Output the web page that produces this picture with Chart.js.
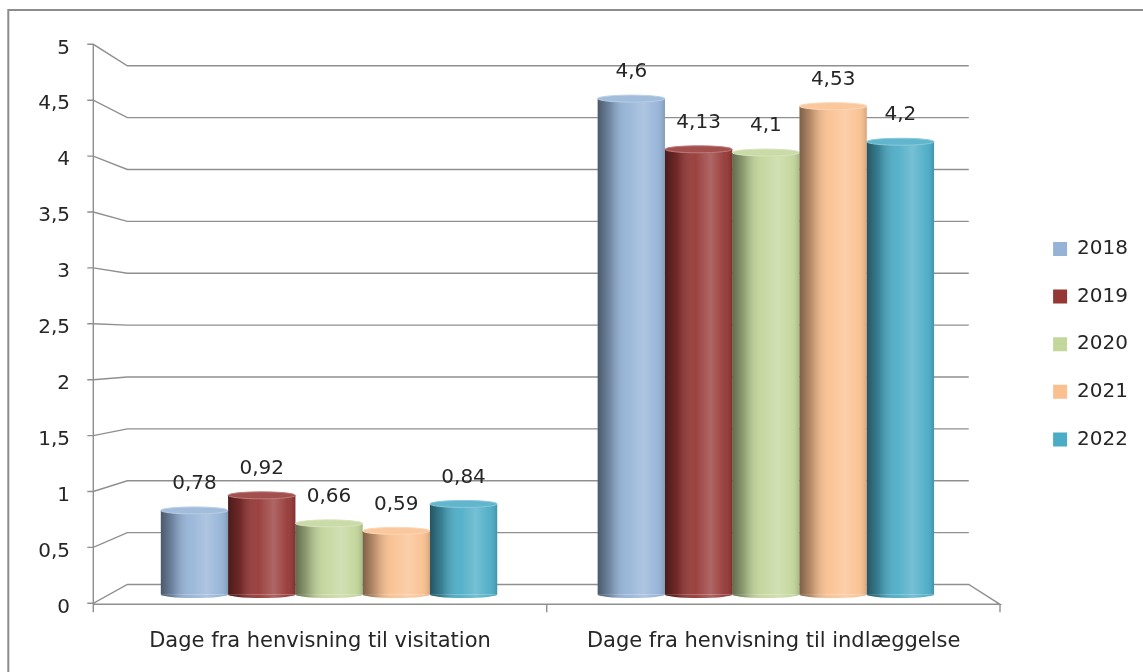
<!DOCTYPE html>
<html><head><meta charset="utf-8">
<script src="https://cdn.jsdelivr.net/npm/chart.js@4.4.1/dist/chart.umd.min.js"></script>
<style>
html,body{margin:0;padding:0;background:#fff;overflow:hidden;}
#wrap{position:relative;width:1143px;height:672px;overflow:hidden;}
canvas{position:absolute;left:0;top:0;}
</style></head><body>
<div id="wrap"><canvas id="c" width="1143" height="672"></canvas></div>
<script>
const categories = ['Dage fra henvisning til visitation', 'Dage fra henvisning til indlæggelse'];
const seriesNames = ['2018', '2019', '2020', '2021', '2022'];
const values2018 = [0.78, 4.6];
const values2019 = [0.92, 4.13];
const values2020 = [0.66, 4.1];
const values2021 = [0.59, 4.53];
const values2022 = [0.84, 4.2];
const yTickValues = [0, 0.5, 1, 1.5, 2, 2.5, 3, 3.5, 4, 4.5, 5];
const yTickLabels = ['0', '0,5', '1', '1,5', '2', '2,5', '3', '3,5', '4', '4,5', '5'];

const seriesValues = [values2018, values2019, values2020, values2021, values2022];
const colors = ['#95B3D7', '#953735', '#C3D69B', '#FAC090', '#4BACC6'];
const TEXT = '#262626';
const GRID = '#8f8f8f';
const FONT = 'DejaVu Sans';

// perspective geometry (layout only)
const FRONT_X0 = 93.3, FRONT_X1 = 1000, VPX = 566, VPY = 342, BACK_S = 0.928, MID_S = 0.9634;

function hexToRgb(h){h=h.replace('#','');return [parseInt(h.substr(0,2),16),parseInt(h.substr(2,2),16),parseInt(h.substr(4,2),16)];}
function mix(h, t, a){const c=hexToRgb(h);return 'rgb('+c.map((v,i)=>Math.round(v+(t[i]-v)*a)).join(',')+')';}

const frame3d = {
  id: 'frame3d',
  beforeDraw(chart) {
    const ctx = chart.ctx;
    ctx.save();
    ctx.strokeStyle = '#8c8c8c'; ctx.lineWidth = 2;
    ctx.beginPath();
    ctx.moveTo(8.3, 680); ctx.lineTo(8.3, 10); ctx.lineTo(1143, 10);
    ctx.stroke();
    ctx.restore();
  },
  beforeDatasetsDraw(chart) {
    const ctx = chart.ctx, y = chart.scales.y, x = chart.scales.x;
    const backX0 = VPX + (FRONT_X0 - VPX) * BACK_S;
    const backX1 = VPX + (FRONT_X1 - VPX) * BACK_S;
    ctx.save();
    ctx.strokeStyle = GRID; ctx.lineWidth = 1.4;
    yTickValues.forEach(v => {
      const yf = y.getPixelForValue(v);
      const yb = VPY + (yf - VPY) * BACK_S;
      ctx.beginPath();
      ctx.moveTo(FRONT_X0 - 6, yf);
      ctx.lineTo(FRONT_X0, yf);
      ctx.lineTo(backX0, yb);
      ctx.lineTo(backX1, yb);
      if (v === 0) {
        ctx.lineTo(FRONT_X1, yf + 1);
        ctx.lineTo(FRONT_X0, yf + 1);
      }
      ctx.stroke();
    });
    const y0 = y.getPixelForValue(0), y5 = y.getPixelForValue(5);
    ctx.beginPath();
    ctx.moveTo(FRONT_X0, y5); ctx.lineTo(FRONT_X0, y0 + 9);
    ctx.moveTo(FRONT_X1, y0 + 1); ctx.lineTo(FRONT_X1, y0 + 9);
    const midSplit = (x.getPixelForValue(0) + x.getPixelForValue(1)) / 2;
    const frontSplit = VPX + (midSplit - VPX) / MID_S;
    ctx.moveTo(frontSplit, y0 + 1); ctx.lineTo(frontSplit, y0 + 9);
    ctx.stroke();
    ctx.restore();
  },
  afterDatasetsDraw(chart) {
    const ctx = chart.ctx;
    const RY = 3.5;
    ctx.save();
    chart.data.datasets.forEach((ds, di) => {
      const meta = chart.getDatasetMeta(di);
      const base = colors[di];
      meta.data.forEach((el, i) => {
        const w = el.width, l = el.x - w / 2, r = el.x + w / 2, top = el.y, bot = el.base;
        const g = ctx.createLinearGradient(l, 0, r, 0);
        g.addColorStop(0, 'rgba(0,0,0,0.5)');
        g.addColorStop(0.18, 'rgba(0,0,0,0.25)');
        g.addColorStop(0.45, 'rgba(255,255,255,0.06)');
        g.addColorStop(0.68, 'rgba(255,255,255,0.24)');
        g.addColorStop(0.88, 'rgba(255,255,255,0.05)');
        g.addColorStop(1, 'rgba(0,0,0,0.14)');
        ctx.beginPath();
        ctx.ellipse(el.x, bot, w / 2, RY, 0, 0, Math.PI);
        ctx.fillStyle = base; ctx.fill();
        ctx.fillStyle = g; ctx.fill();
        ctx.fillStyle = g;
        ctx.fillRect(l, top, w, bot - top);
        ctx.beginPath();
        ctx.ellipse(el.x, top, w / 2, RY, 0, 0, Math.PI * 2);
        ctx.fillStyle = mix(base, [255,255,255], 0.12); ctx.fill();
        ctx.strokeStyle = mix(base, [255,255,255], 0.35); ctx.lineWidth = 1; ctx.stroke();
        ctx.fillStyle = TEXT;
        ctx.font = '20px "' + FONT + '"';
        ctx.textAlign = 'center'; ctx.textBaseline = 'middle';
        ctx.fillText(String(ds.data[i]).replace('.', ','), el.x, top - RY - 23);
      });
    });
    ctx.restore();
  }
};

const chart = new Chart(document.getElementById('c'), {
  type: 'bar',
  data: {
    labels: categories,
    datasets: seriesNames.map((n, i) => ({
      label: n, data: seriesValues[i], backgroundColor: colors[i], borderWidth: 0,
      xAxisID: 'x', yAxisID: 'yb', barPercentage: 1, categoryPercentage: 0.77
    }))
  },
  options: {
    responsive: false, animation: false, devicePixelRatio: 1,
    layout: { padding: { top: 44.3, left: 0, right: 5, bottom: 0 } },
    scales: {
      x: { type: 'category', display: false },
      xl: {
        type: 'linear', position: 'bottom', min: -0.4616, max: 1.4643, offset: false, bounds: 'data', grace: 0,
        afterBuildTicks: s => { s.ticks = [{ value: 0 }, { value: 1 }]; },
        afterFit: s => { s.height = 68.7; },
        ticks: { callback: v => categories[v], color: TEXT, font: { family: FONT, size: 21 }, padding: 26, autoSkip: false, maxRotation: 0, minRotation: 0 },
        grid: { display: false, drawTicks: false, offset: false }, border: { display: false }
      },
      y: {
        type: 'linear', position: 'left', min: 0, max: 5,
        afterBuildTicks: s => { s.ticks = yTickValues.map(v => ({ value: v })); },
        afterFit: s => { s.width = 110.6; },
        ticks: { callback: (v, i) => yTickLabels[i], color: TEXT, font: { family: FONT, size: 20 }, padding: 12, labelOffset: 4 },
        grid: { display: false, drawTicks: true, tickLength: 28.6 }, border: { display: false }
      },
      yb: { type: 'linear', position: 'left', display: false, min: -0.0816, max: 5.1039 },
      yR: {
        type: 'linear', position: 'right', min: 0, max: 1,
        afterFit: s => { s.width = 41.2; },
        ticks: { display: false }, grid: { display: false, drawTicks: false }, border: { display: false }
      }
    },
    plugins: {
      legend: {
        position: 'right', fullSize: false,
        title: { display: true, text: '', font: { size: 10, lineHeight: 1 }, padding: { top: 30.8, bottom: 0 } },
        labels: { boxWidth: 14, boxHeight: 14, padding: 27.6, color: TEXT, font: { family: FONT, size: 20 } }
      },
      tooltip: { enabled: false }
    }
  },
  plugins: [frame3d]
});
</script>
</body></html>
